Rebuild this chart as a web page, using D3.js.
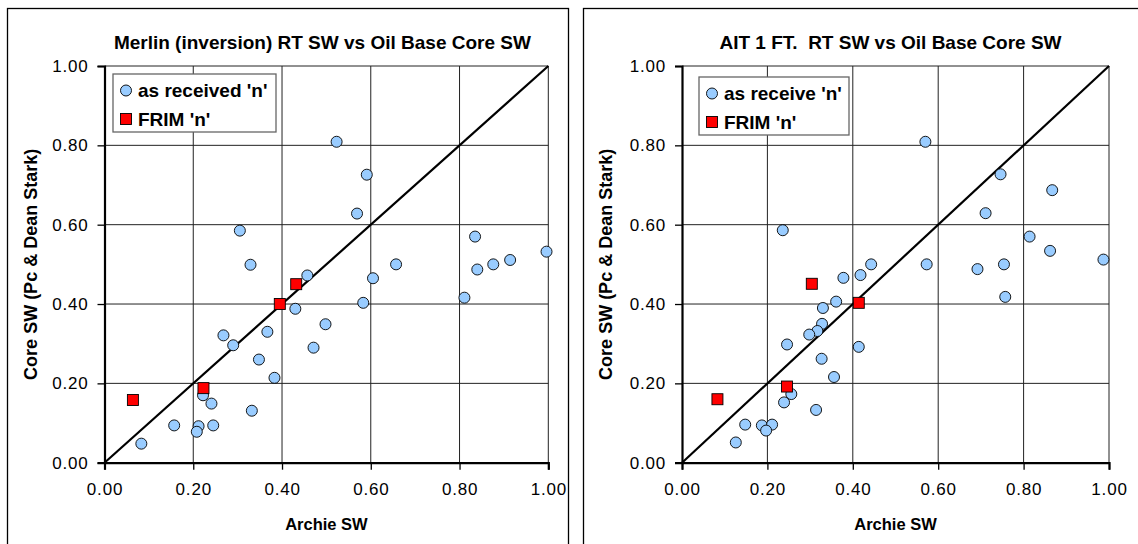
<!DOCTYPE html>
<html>
<head>
<meta charset="utf-8">
<script src="https://cdn.jsdelivr.net/npm/d3@7"></script>
<style>
    body { margin: 0; background: #fff; }
    svg { display: block; font-family: "Liberation Sans", Arial, sans-serif; }
</style>
</head>
<body>
<svg id="chart" width="1138" height="544"></svg>
<script>
// ---- data ----
const titles = ["Merlin (inversion) RT SW vs Oil Base Core SW", "AIT 1 FT.  RT SW vs Oil Base Core SW"]
const received_names = ["as received 'n'", "as receive 'n'"]
const frim_name = "FRIM 'n'"
const x_label = "Archie SW"
const y_label = "Core SW (Pc & Dean Stark)"
const tick_values = [0, 0.2, 0.4, 0.6, 0.8, 1.0]

// merlin panel
const merlin_received_x = [0.523, 0.591, 0.569, 0.305, 0.329, 0.457, 0.835, 0.996, 0.914, 0.876, 0.840, 0.657, 0.605, 0.811, 0.583, 0.430,
    0.498, 0.367, 0.268, 0.290, 0.471, 0.348, 0.383, 0.222, 0.241, 0.332, 0.157, 0.212, 0.245, 0.208, 0.083]
const merlin_received_y = [0.809, 0.726, 0.628, 0.585, 0.499, 0.472, 0.570, 0.532, 0.511, 0.500, 0.487, 0.500, 0.465, 0.416, 0.403, 0.388,
    0.349, 0.330, 0.321, 0.296, 0.290, 0.260, 0.214, 0.170, 0.149, 0.131, 0.094, 0.092, 0.094, 0.078, 0.048]
const merlin_frim_x = [0.064, 0.223, 0.395, 0.432]
const merlin_frim_y = [0.158, 0.188, 0.400, 0.450]

// AIT panel
const ait_received_x = [0.570, 0.746, 0.867, 0.711, 0.236, 0.814, 0.862, 0.987, 0.573, 0.754, 0.692, 0.443, 0.418, 0.378, 0.757, 0.361,
    0.330, 0.328, 0.317, 0.298, 0.246, 0.414, 0.327, 0.356, 0.256, 0.239, 0.314, 0.148, 0.187, 0.211, 0.197, 0.126]
const ait_received_y = [0.809, 0.727, 0.687, 0.629, 0.586, 0.570, 0.534, 0.512, 0.500, 0.500, 0.488, 0.500, 0.473, 0.466, 0.418, 0.406,
    0.390, 0.350, 0.332, 0.323, 0.298, 0.292, 0.262, 0.216, 0.173, 0.152, 0.133, 0.096, 0.094, 0.096, 0.081, 0.051]
const ait_frim_x = [0.083, 0.246, 0.304, 0.414]
const ait_frim_y = [0.160, 0.192, 0.451, 0.403]

const BLUE = "#99ccff"
const RED = "#ff0000"
const fmt = d3.format(".2f")

const svg = d3.select("#chart")

// one framed panel with title, grid, 1:1 line, points and legend
function draw_panel(cfg) {
    let g = svg.append("g")

    // outer frame
    g.append("rect")
        .attr("x", cfg.frame[0] + 0.5).attr("y", cfg.frame[1] + 0.5)
        .attr("width", cfg.frame[2]).attr("height", cfg.frame[3])
        .attr("fill", "none").attr("stroke", "#000").attr("stroke-width", 1.3)

    let x = d3.scaleLinear().domain([0, 1]).range([cfg.plot[0], cfg.plot[1]])
    let y = d3.scaleLinear().domain([0, 1]).range([cfg.plot[3], cfg.plot[2]])

    // grid
    g.append("g").selectAll("line").data(tick_values.slice(1)).join("line")
        .attr("x1", d => x(d)).attr("x2", d => x(d))
        .attr("y1", y(0)).attr("y2", y(1))
        .attr("stroke", "#222").attr("stroke-width", 1)
    g.append("g").selectAll("line").data(tick_values.slice(1)).join("line")
        .attr("y1", d => y(d)).attr("y2", d => y(d))
        .attr("x1", x(0)).attr("x2", x(1))
        .attr("stroke", "#222").attr("stroke-width", 1)

    // axes
    let x_axis = d3.axisBottom(x).tickValues(tick_values).tickFormat(fmt).tickSize(7).tickPadding(13)
    let y_axis = d3.axisLeft(y).tickValues(tick_values).tickFormat(fmt).tickSize(7).tickPadding(9)

    let gx = g.append("g").attr("transform", `translate(0,${y(0)})`).call(x_axis)
    let gy = g.append("g").attr("transform", `translate(${x(0)},0)`).call(y_axis)
    for (let a of [gx, gy]) {
        a.select(".domain").attr("stroke", "#000").attr("stroke-width", 2.2)
        a.selectAll(".tick line").attr("stroke", "#000").attr("stroke-width", 1.3)
        a.selectAll(".tick text").attr("fill", "#000")
            .style("font-size", "17px").style("letter-spacing", "0.8px")
    }

    // 1:1 line
    g.append("line")
        .attr("x1", x(0)).attr("y1", y(0)).attr("x2", x(1)).attr("y2", y(1))
        .attr("stroke", "#000").attr("stroke-width", 2.2)

    // points
    let received = d3.zip(cfg.received_x, cfg.received_y)
    let frim = d3.zip(cfg.frim_x, cfg.frim_y)
    let sq = 11

    g.append("g").selectAll("circle").data(received).join("circle")
        .attr("cx", d => x(d[0])).attr("cy", d => y(d[1])).attr("r", 5.5)
        .attr("fill", BLUE).attr("stroke", "#000").attr("stroke-width", 0.9)
    g.append("g").selectAll("rect").data(frim).join("rect")
        .attr("x", d => x(d[0]) - sq / 2).attr("y", d => y(d[1]) - sq / 2)
        .attr("width", sq).attr("height", sq)
        .attr("fill", RED).attr("stroke", "#000").attr("stroke-width", 0.9)

    // titles
    let cx = (cfg.plot[0] + cfg.plot[1]) / 2
    g.append("text").text(cfg.title)
        .attr("x", cx + cfg.title_dx).attr("y", 49).attr("text-anchor", "middle")
        .style("white-space", "pre")  // keep the double space
        .style("font-size", "19px").style("font-weight", "bold")
    g.append("text").text(x_label)
        .attr("x", cx).attr("y", 530).attr("text-anchor", "middle")
        .style("font-size", "16.5px").style("font-weight", "bold")
    g.append("text").text(y_label)
        .attr("transform", `translate(${cfg.y_label_x},${(cfg.plot[2] + cfg.plot[3]) / 2}) rotate(-90)`)
        .attr("text-anchor", "middle").attr("dy", "0.35em")
        .style("font-size", "18px").style("font-weight", "bold")

    // legend
    let lg = g.append("g").attr("transform", `translate(${cfg.legend[0]},${cfg.legend[1]})`)
    lg.append("rect")
        .attr("width", cfg.legend[2]).attr("height", 58)
        .attr("fill", "#fff").attr("stroke", "#666").attr("stroke-width", 1.3)
    lg.append("circle").attr("cx", 13).attr("cy", 16.5).attr("r", 5.5)
        .attr("fill", BLUE).attr("stroke", "#000").attr("stroke-width", 0.9)
    lg.append("rect").attr("x", 7.5).attr("y", 39.5).attr("width", 11).attr("height", 11)
        .attr("fill", RED).attr("stroke", "#000").attr("stroke-width", 0.9)
    lg.selectAll("text").data([cfg.received_name, frim_name]).join("text")
        .text(d => d)
        .attr("x", 25).attr("y", (d, i) => 16 + i * 29).attr("dy", "0.36em")
        .style("font-size", "19px").style("font-weight", "bold")
}

draw_panel({
    frame: [7, 8, 561, 560],
    plot: [104.5, 548.3, 66, 462.7],
    y_label_x: 31,
    legend: [113, 74, 163],
    title: titles[0],
    title_dx: -4,
    received_name: received_names[0],
    received_x: merlin_received_x, received_y: merlin_received_y,
    frim_x: merlin_frim_x, frim_y: merlin_frim_y,
})

draw_panel({
    frame: [583, 8, 580, 560],
    plot: [682, 1109, 66, 462.7],
    y_label_x: 606,
    legend: [699, 77, 150],
    title: titles[1],
    title_dx: -5,
    received_name: received_names[1],
    received_x: ait_received_x, received_y: ait_received_y,
    frim_x: ait_frim_x, frim_y: ait_frim_y,
})
</script>
</body>
</html>
